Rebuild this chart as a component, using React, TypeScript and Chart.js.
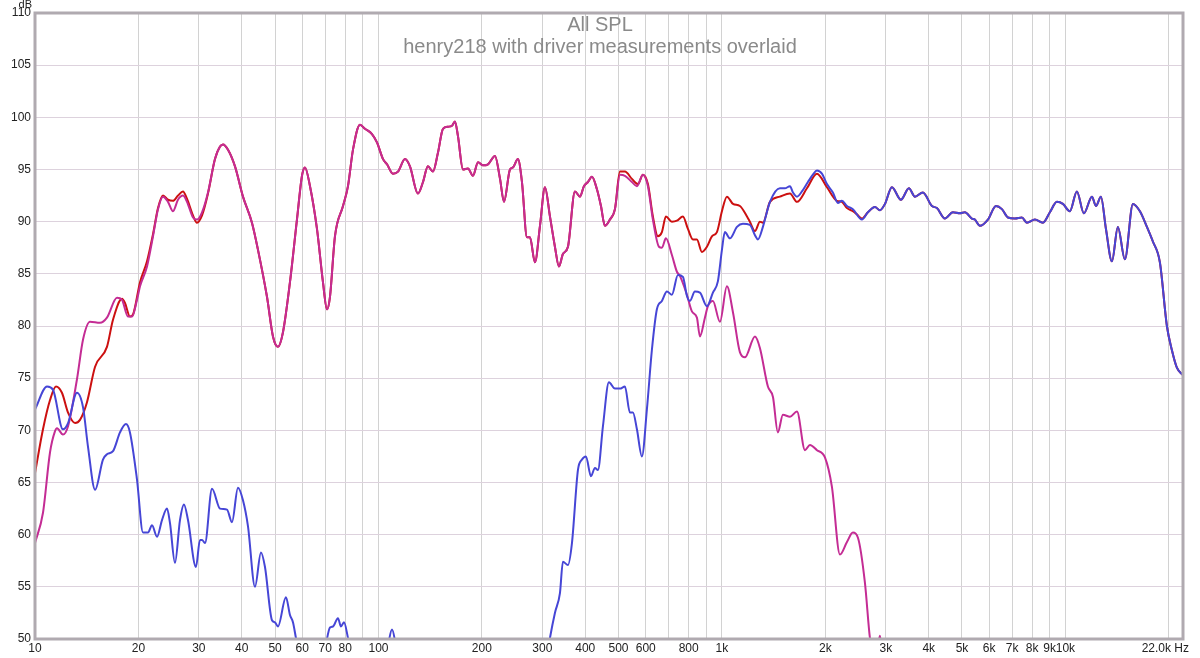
import { useEffect, useRef } from "react"
import { Chart, registerables } from "chart.js"

Chart.register(...registerables)

const FONT = '"Liberation Sans", Arial, sans-serif'

const title = "All SPL"
const subtitle = "henry218 with driver measurements overlaid"

// vertical grid lines (1-2-3...9 per decade)
const gridFreqs = [
  10, 20, 30, 40, 50, 60, 70, 80, 90,
  100, 200, 300, 400, 500, 600, 700, 800, 900,
  1000, 2000, 3000, 4000, 5000, 6000, 7000, 8000, 9000,
  10000, 20000, 22000,
]

const xTickLabels: [number, string][] = [
  [10, "10"], [20, "20"], [30, "30"], [40, "40"], [50, "50"], [60, "60"], [70, "70"], [80, "80"],
  [100, "100"], [200, "200"], [300, "300"], [400, "400"], [500, "500"], [600, "600"], [800, "800"],
  [1000, "1k"], [2000, "2k"], [3000, "3k"], [4000, "4k"], [5000, "5k"], [6000, "6k"], [7000, "7k"],
  [8000, "8k"], [9000, "9k"], [10000, "10k"],
]
const xEndLabel: [number, string] = [22000, "22.0k Hz"]

// [Hz, dB] - woofer (magenta)
const wooferPoints = [
  [10, 59.2], [10.55, 62.1], [11.06, 67.9], [11.43, 69.9], [11.59, 70.2], [12.06, 69.6], [12.48, 70.4],
  [13.25, 74.9], [13.8, 78.7], [14.46, 80.4], [15.46, 80.3], [16.2, 80.8], [17.33, 82.7], [17.92, 82.5],
  [18.65, 80.9], [19.16, 80.9], [19.81, 82.5], [20.22, 83.8], [21.19, 85.7], [22.06, 88.6], [22.81, 91.2],
  [23.59, 92.4], [24.39, 91.9], [25.22, 91.0], [26.08, 92.1], [26.97, 92.5], [27.7, 91.9], [28.84, 90.4],
  [29.62, 90.2], [30.64, 90.9], [31.89, 92.8], [33.42, 96.0], [34.57, 97.2], [35.26, 97.4], [36.47, 96.9],
  [38.22, 95.3], [40.32, 92.4], [42.82, 89.9], [44.59, 87.3], [47.36, 82.8], [49.3, 79.0], [50.98, 78.0],
  [52.72, 79.4], [55.25, 84.2], [57.9, 90.2], [59.89, 94.4], [61.1, 95.2], [63.19, 93.4], [66.22, 89.3],
  [68.93, 84.2], [70.8, 81.6], [72.25, 82.8], [74.7, 88.6], [78.84, 91.5], [81.52, 93.4], [84.3, 96.9],
  [88.35, 99.3], [91.36, 98.9], [95.73, 98.4], [99.0, 97.6], [103.1, 96.0], [105.9, 95.5], [110.2, 94.6],
  [114.0, 94.8], [119.5, 96.0], [123.5, 95.3], [130.3, 92.7], [134.8, 93.8], [139.3, 95.3], [144.1, 94.8],
  [149.0, 96.6], [154.1, 98.9], [159.4, 99.1], [163.7, 99.2], [167.0, 99.6], [170.4, 98.2], [176.2, 95.0],
  [182.2, 95.1], [188.4, 94.4], [194.9, 95.7], [201.5, 95.4], [208.4, 95.5], [218.4, 96.3], [225.9, 94.1],
  [232.0, 91.9], [241.5, 95.0], [246.4, 95.2], [254.7, 96.0], [261.7, 93.8], [270.6, 88.5], [276.1, 88.5],
  [285.5, 86.1], [295.3, 89.6], [305.3, 93.3], [315.7, 90.5], [326.4, 87.6], [335.3, 85.7], [344.4, 86.9],
  [356.2, 87.6], [373.3, 92.9], [386.1, 92.4], [396.5, 93.4], [407.3, 93.8], [418.4, 94.3], [432.6, 93.1],
  [444.4, 91.5], [456.4, 89.6], [472.0, 90.2], [488.1, 91.2], [504.7, 94.5], [521.9, 94.4], [547.0, 93.8],
  [565.6, 93.4], [588.8, 94.5], [608.9, 93.4], [629.5, 90.2], [655.4, 87.6], [668.7, 87.5], [687.0, 88.4],
  [715.1, 86.8], [739.5, 85.2], [754.5, 84.8], [790.7, 83.0], [817.7, 81.4], [845.6, 80.8], [862.9, 79.0],
  [892.2, 80.8], [910.4, 81.9], [941.4, 82.4], [986.7, 80.4], [1034, 83.8], [1077, 81.3], [1128, 77.5],
  [1167, 77.0], [1248, 79.0], [1290, 77.9], [1361, 74.2], [1408, 73.2], [1455, 69.8], [1505, 71.5],
  [1578, 71.3], [1654, 71.8], [1745, 68.1], [1804, 68.6], [1891, 68.1], [1995, 67.4], [2090, 64.6],
  [2206, 58.1], [2312, 59.3], [2406, 60.2], [2489, 59.7], [2608, 55.4], [2697, 50.1], [2790, 47.5],
  [2884, 50.3], [2960, 47.0], [3200, 42.0], [3600, 38.0],
]

// [Hz, dB] - tweeter / upper driver (blue), below 2.6 kHz
const tweeterPoints = [
  [10, 72.0], [10.84, 74.2], [11.28, 73.9], [12.06, 70.1], [12.48, 70.7], [13.25, 73.6], [13.8, 72.2],
  [14.27, 68.4], [14.96, 64.3], [15.77, 67.2], [16.2, 67.7], [16.87, 68.0], [17.68, 69.8], [18.4, 70.6],
  [18.9, 69.8], [19.81, 65.3], [20.63, 60.2], [21.33, 60.2], [21.91, 60.9], [22.66, 59.8], [23.43, 61.4],
  [24.23, 62.5], [24.72, 61.1], [25.56, 57.3], [26.43, 61.4], [27.15, 62.9], [27.89, 61.4], [29.42, 56.9],
  [30.22, 59.5], [30.64, 59.5], [31.26, 59.2], [32.76, 64.4], [34.57, 62.5], [36.22, 62.4], [37.46, 61.2],
  [38.99, 64.5], [40.32, 63.3], [41.7, 60.8], [43.7, 55.0], [45.49, 58.3], [46.73, 56.9], [48.97, 51.8],
  [49.96, 51.6], [50.98, 51.2], [53.78, 54.0], [55.25, 52.3], [56.37, 51.6], [57.51, 50.1], [60, 47.0],
  [64, 45.5], [69, 48.0], [72.25, 51.1], [73.71, 51.2], [76.22, 52.0], [77.77, 51.2], [79.36, 51.6],
  [81.52, 50.1], [85, 47.0], [92, 45.0], [100, 46.5], [106, 49.0], [109.5, 50.9], [113, 49.0], [120, 46.0],
  [140, 42.0], [180, 38.0], [240, 36.0], [290, 42.0], [305, 47.0], [315.7, 50.1], [326.4, 52.5],
  [337.6, 54.4], [344.4, 57.4], [356.2, 57.1], [365.9, 59.2], [380.9, 66.2], [391.3, 67.2], [401.9, 67.5],
  [415.6, 65.6], [426.9, 66.4], [435.5, 66.2], [450.4, 70.4], [468.8, 74.6], [488.1, 74.0], [504.7, 74.0],
  [521.9, 74.2], [539.7, 71.7], [550.7, 71.7], [565.6, 70.1], [584.8, 67.5], [604.7, 72.0], [625.3, 77.7],
  [646.6, 81.6], [668.7, 82.4], [691.6, 83.3], [715.1, 83.0], [744.5, 84.9], [769.9, 84.7], [790.7, 82.9],
  [806.7, 82.4], [834.3, 83.3], [862.9, 83.2], [904.3, 81.9], [941.4, 83.2], [973.6, 84.3], [1000, 87.3],
  [1020, 89.0], [1055, 88.4], [1106, 89.5], [1151, 89.8], [1206, 89.7], [1248, 88.7], [1273, 88.3],
  [1316, 89.5], [1380, 91.9], [1475, 93.2], [1525, 93.2], [1578, 93.4], [1610, 92.8], [1654, 92.4],
  [1710, 92.9], [1780, 93.8], [1840, 94.5], [1891, 94.9], [1955, 94.6], [2022, 93.6], [2104, 92.8],
  [2176, 91.8], [2235, 92.0], [2312, 91.5], [2406, 91.2], [2556, 90.2],
]

// [Hz, dB] - summed response (red), below 2.6 kHz
const sumPoints = [
  [10, 65.9], [10.55, 70.1], [11.06, 72.9], [11.51, 74.2], [11.98, 73.6], [12.48, 71.7], [13.08, 70.7],
  [13.52, 71.0], [14.17, 72.7], [14.96, 76.1], [16.2, 78.0], [16.87, 80.6], [17.92, 82.6], [18.28, 82.2],
  [18.9, 80.9], [19.29, 81.1], [20.22, 84.2], [21.19, 86.2], [22.06, 88.8], [22.81, 91.3], [23.59, 92.5],
  [24.39, 92.1], [25.22, 92.0], [26.08, 92.5], [26.97, 92.9], [27.7, 92.2], [28.84, 90.6], [29.62, 89.9],
  [30.64, 90.6], [31.89, 92.7], [33.42, 96.0], [34.57, 97.2], [35.26, 97.4], [36.47, 96.9], [38.22, 95.3],
  [40.32, 92.4], [42.82, 89.9], [44.59, 87.3], [47.36, 82.8], [49.3, 79.0], [50.98, 78.0], [52.72, 79.4],
  [55.25, 84.2], [57.9, 90.2], [59.89, 94.4], [61.1, 95.2], [63.19, 93.4], [66.22, 89.3], [68.93, 84.2],
  [70.8, 81.6], [72.25, 82.8], [74.7, 88.6], [78.84, 91.5], [81.52, 93.4], [84.3, 96.9], [88.35, 99.3],
  [91.36, 98.9], [95.73, 98.4], [99.0, 97.6], [103.1, 96.0], [105.9, 95.5], [110.2, 94.6], [114.0, 94.8],
  [119.5, 96.0], [123.5, 95.3], [130.3, 92.7], [134.8, 93.8], [139.3, 95.3], [144.1, 94.8], [149.0, 96.6],
  [154.1, 98.9], [159.4, 99.1], [163.7, 99.2], [167.0, 99.6], [170.4, 98.2], [176.2, 95.0], [182.2, 95.1],
  [188.4, 94.4], [194.9, 95.7], [201.5, 95.4], [208.4, 95.5], [218.4, 96.3], [225.9, 94.1], [232.0, 91.9],
  [241.5, 95.0], [246.4, 95.2], [254.7, 96.0], [261.7, 93.8], [270.6, 88.5], [276.1, 88.5], [285.5, 86.1],
  [295.3, 89.6], [305.3, 93.3], [315.7, 90.5], [326.4, 87.6], [335.3, 85.7], [344.4, 86.9], [356.2, 87.6],
  [373.3, 92.9], [386.1, 92.4], [396.5, 93.4], [407.3, 93.8], [418.4, 94.3], [432.6, 93.1], [444.4, 91.5],
  [456.4, 89.6], [472.0, 90.2], [488.1, 91.2], [504.7, 94.8], [521.9, 94.8], [547.0, 94.1], [569.6, 93.6],
  [588.8, 94.5], [608.9, 93.6], [629.5, 90.5], [651.0, 88.6], [668.7, 89.0], [687.0, 90.5], [715.1, 90.0],
  [739.5, 90.1], [769.9, 90.5], [796.2, 89.3], [823.3, 88.3], [845.6, 88.3], [874.5, 87.1], [904.3, 87.6],
  [935.1, 88.6], [967.0, 89.0], [1000, 91.0], [1034, 92.4], [1077, 91.7], [1128, 91.5], [1183, 90.5],
  [1206, 90.0], [1248, 89.1], [1290, 90.0], [1316, 89.9], [1380, 91.9], [1475, 92.4], [1578, 92.7],
  [1654, 91.9], [1768, 93.2], [1891, 94.6], [2022, 93.3], [2161, 92.0], [2235, 91.9], [2312, 91.3],
  [2406, 91.0], [2473, 90.7], [2556, 90.3],
]

// [Hz, dB] - above 2.6 kHz the sum and the tweeter lie on top of each other
const treblePoints = [
  [2661, 90.9], [2789, 91.4], [2884, 91.1], [2983, 91.7], [3126, 93.3], [3320, 92.1], [3503, 93.2],
  [3648, 92.4], [3847, 92.8], [4087, 91.5], [4226, 91.3], [4458, 90.3], [4704, 90.9], [4930, 90.8],
  [5097, 90.9], [5342, 90.3], [5451, 90.2], [5637, 89.6], [5948, 90.2], [6278, 91.5], [6534, 91.2],
  [6803, 90.4], [7129, 90.3], [7471, 90.4], [7726, 89.9], [8153, 90.2], [8601, 89.9], [9014, 90.9],
  [9447, 91.9], [9833, 91.7], [10306, 91.0], [10801, 92.9], [11320, 90.8], [11948, 92.4], [12273, 91.5],
  [12691, 92.4], [13125, 89.3], [13664, 86.2], [14216, 89.5], [14900, 86.4], [15725, 91.7], [16482, 91.0],
  [17275, 89.5], [17978, 88.1], [18843, 86.1], [19749, 80.0], [20418, 77.7], [21117, 76.0], [21839, 75.4],
  [22000, 75.3],
]

const toXY = (pts) => pts.map(([x, y]) => ({ x, y }))

// title, frame and axis texts drawn on the canvas
const decorPlugin = {
  id: "decor",
  beforeDatasetsDraw(chart) {
    const { ctx, width } = chart
    ctx.save()
    ctx.fillStyle = "#8a8a8a"
    ctx.font = `20px ${FONT}`
    ctx.textAlign = "center"
    ctx.textBaseline = "alphabetic"
    ctx.fillText(title, width / 2, 31)
    ctx.fillText(subtitle, width / 2, 53)
    ctx.restore()
  },
  afterDatasetsDraw(chart) {
    const { ctx, chartArea } = chart
    const { left, top, right, bottom } = chartArea
    ctx.save()
    ctx.strokeStyle = "#b0aab0"
    ctx.lineWidth = 3
    ctx.strokeRect(left, top, right - left, bottom - top)

    const xs = chart.scales.x
    ctx.fillStyle = "#222"
    ctx.font = `12px ${FONT}`
    ctx.textBaseline = "middle"
    ctx.textAlign = "center"
    xTickLabels.forEach(([v, label]) => {
      ctx.fillText(label, xs.getPixelForValue(v), bottom + 10)
    })
    ctx.textAlign = "right"
    ctx.fillText(xEndLabel[1], xs.getPixelForValue(xEndLabel[0]) + 6, bottom + 10)

    ctx.font = `11px ${FONT}`
    ctx.textBaseline = "alphabetic"
    ctx.fillText("dB", left - 3, 8)
    ctx.restore()
  },
}

export default function App() {
  const chartRef = useRef(null)
  const chartInstance = useRef(null)

  useEffect(() => {
    if (!chartRef.current) return
    if (chartInstance.current) chartInstance.current.destroy()

    const ctx = chartRef.current.getContext("2d")

    const line = (label, color, pts) => ({
      label,
      data: toXY(pts),
      borderColor: color,
      backgroundColor: color,
      borderWidth: 2,
      pointRadius: 0,
      cubicInterpolationMode: "monotone",
      fill: false,
    })

    chartInstance.current = new Chart(ctx, {
      type: "line",
      data: {
        // first dataset is painted last (on top)
        datasets: [
          line("Tweeter", "#4646d6", tweeterPoints.concat(treblePoints)),
          line("Woofer", "#c42c94", wooferPoints),
          line("Sum", "#cc1010", sumPoints.concat(treblePoints)),
        ],
      },
      options: {
        responsive: false,
        animation: false,
        parsing: true,
        layout: { padding: { top: 13, right: 17, left: 0, bottom: 0 } },
        plugins: {
          legend: { display: false },
          title: { display: false },
          tooltip: { enabled: false },
        },
        scales: {
          x: {
            type: "logarithmic",
            min: 10,
            max: 22000,
            afterBuildTicks: (s) => {
              s.ticks = gridFreqs.map((v) => ({ value: v }))
            },
            afterFit: (s) => {
              s.height = 19
            },
            ticks: { display: false },
            grid: { color: "#d2d2d2", lineWidth: 1, drawTicks: false },
            border: { display: false },
          },
          y: {
            min: 50,
            max: 110,
            afterFit: (s) => {
              s.width = 35
            },
            ticks: {
              stepSize: 5,
              padding: 4,
              color: "#222",
              font: { size: 12, family: FONT },
            },
            grid: { color: "#ddd2dd", lineWidth: 1, drawTicks: false },
            border: { display: false },
          },
        },
      },
      plugins: [decorPlugin],
    })

    return () => {
      if (chartInstance.current) {
        chartInstance.current.destroy()
        chartInstance.current = null
      }
    }
  }, [])

  return (
    <div style={{ position: "fixed", left: 0, top: 0, width: 1200, height: 658, background: "#fff" }}>
      <canvas ref={chartRef} width={1200} height={658} />
    </div>
  )
}
